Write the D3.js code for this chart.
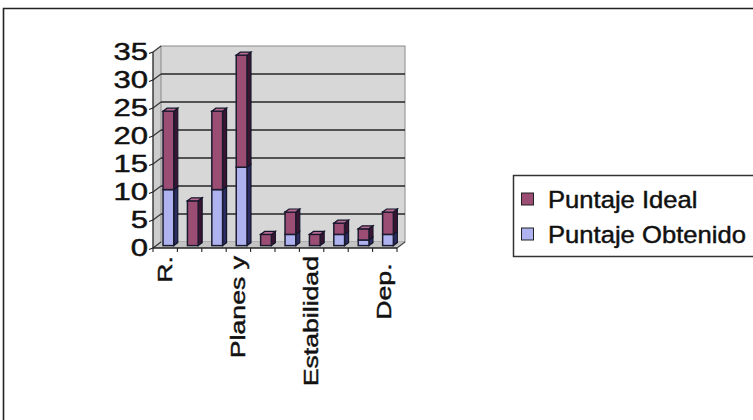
<!DOCTYPE html>
<html>
<head>
<meta charset="utf-8">
<script src="https://cdn.jsdelivr.net/npm/d3@7"></script>
<style>
  html, body { margin: 0; padding: 0; background: #fff; }
  svg { display: block; }
  text { font-family: "Liberation Sans", Arial, sans-serif; fill: #111; stroke: #111; stroke-width: 0.45px; }
</style>
</head>
<body>
<script>
// Category labels (only every third one fits under the axis)
const categories = ["R.", "c2", "c3", "Planes y", "c5", "c6", "Estabilidad", "c8", "c9", "Dep. "];
const shownLabels = [true, false, false, true, false, false, true, false, false, true];
// Series values, stacked: Obtenido at the bottom, Ideal on top
const puntajeObtenido = [10, 0, 10, 14, 0, 2, 0, 2, 1, 2];
const puntajeIdeal    = [14, 8, 14, 20, 2, 4, 2, 2, 2, 4];
const seriesNames = ["Puntaje Ideal", "Puntaje Obtenido"];
const yTicks = [0, 5, 10, 15, 20, 25, 30, 35];

const W = 753, H = 420;
const svg = d3.select("body").append("svg").attr("width", W).attr("height", H);

// outer chart border (runs off the right and bottom edges)
svg.append("path")
  .attr("d", "M3.5,430 L3.5,8.5 L760,8.5")
  .attr("fill", "none").attr("stroke", "#222").attr("stroke-width", 1.6);

const x = d3.scaleBand().domain(categories).range([153, 397]).padding(0);
const y = d3.scaleLinear().domain([0, 35]).range([248, 52]);
const DX = 8, DY = -6;           // depth vector of the 3D box
const x0 = 153, x1 = 397;

const g = svg.append("g");

// side wall (left)
g.append("path")
  .attr("d", `M${x0},${y(0)} L${x0},${y(35)} L${x0 + DX},${y(35) + DY} L${x0 + DX},${y(0) + DY} Z`)
  .attr("fill", "#cdcdcd");
// back wall
g.append("rect")
  .attr("x", x0 + DX).attr("y", y(35) + DY)
  .attr("width", x1 - x0).attr("height", y(0) - y(35))
  .attr("fill", "#d7d7d7").attr("stroke", "#8a8a8a").attr("stroke-width", 1);
// floor
g.append("path")
  .attr("d", `M${x0},${y(0)} L${x0 + DX},${y(0) + DY} L${x1 + DX},${y(0) + DY} L${x1},${y(0)} Z`)
  .attr("fill", "#c4c4c4");

// gridlines on the back wall and the side wall
yTicks.forEach(t => {
  if (t > 0 && t < 35) {
    g.append("line")
      .attr("x1", x0 + DX).attr("x2", x1 + DX)
      .attr("y1", y(t) + DY).attr("y2", y(t) + DY)
      .attr("stroke", "#262626").attr("stroke-width", 1.5);
  }
  g.append("line")
    .attr("x1", x0 - 4).attr("y1", y(t) + 1.5)
    .attr("x2", x0).attr("y2", y(t))
    .attr("stroke", "#222").attr("stroke-width", 1.2);
  g.append("line")
    .attr("x1", x0).attr("y1", y(t))
    .attr("x2", x0 + DX).attr("y2", y(t) + DY)
    .attr("stroke", "#333").attr("stroke-width", 1.1);
});

// value axis line
g.append("line")
  .attr("x1", x0).attr("x2", x0).attr("y1", y(0)).attr("y2", y(35))
  .attr("stroke", "#222").attr("stroke-width", 1.3);

// value axis labels
yTicks.forEach(t => {
  svg.append("text")
    .attr("transform", `translate(148,${y(t)}) scale(1.35,1)`)
    .attr("text-anchor", "end").attr("dy", "0.36em")
    .attr("font-size", 23)
    .text(t);
});

// bars (3D stacked columns)
const colors = {
  ideal:    { front: "#9c4d74", side: "#3a1430", top: "#b76a92" },
  obtenido: { front: "#aeb3f0", side: "#2b2d62", top: "#c9ccf7" }
};
const dFront = 0.4, dBack = 0.9;
const bw = x.bandwidth() * 0.44;
const bars = g.append("g");

categories.forEach((c, i) => {
  const cx = x(c) + x.bandwidth() / 2;
  const segs = [
    { v0: 0, v1: puntajeObtenido[i], col: colors.obtenido },
    { v0: puntajeObtenido[i], v1: puntajeObtenido[i] + puntajeIdeal[i], col: colors.ideal }
  ].filter(s => s.v1 > s.v0);
  segs.forEach((s, k) => {
    const xl = cx - bw / 2 + dFront * DX, xr = xl + bw;
    const yt = y(s.v1) + dFront * DY, yb = y(s.v0) + dFront * DY;
    const ddx = (dBack - dFront) * DX, ddy = (dBack - dFront) * DY;
    // right side face
    bars.append("path")
      .attr("d", `M${xr},${yt} L${xr + ddx},${yt + ddy} L${xr + ddx},${yb + ddy} L${xr},${yb} Z`)
      .attr("fill", s.col.side).attr("stroke", "#15152a").attr("stroke-width", 1.2);
    // front face
    bars.append("rect")
      .attr("x", xl).attr("y", yt).attr("width", bw).attr("height", yb - yt)
      .attr("fill", s.col.front).attr("stroke", "#1b1b30").attr("stroke-width", 1.5);
    // top face on the highest segment
    if (k === segs.length - 1) {
      bars.append("path")
        .attr("d", `M${xl},${yt} L${xl + ddx},${yt + ddy} L${xr + ddx},${yt + ddy} L${xr},${yt} Z`)
        .attr("fill", s.col.top).attr("stroke", "#15152a").attr("stroke-width", 1.2);
    }
  });
});

// category axis: front floor edge, ticks and right slant
g.append("line")
  .attr("x1", x0).attr("x2", x1).attr("y1", y(0)).attr("y2", y(0))
  .attr("stroke", "#222").attr("stroke-width", 1.3);
g.append("line")
  .attr("x1", x1).attr("x2", x1 + DX).attr("y1", y(0)).attr("y2", y(0) + DY)
  .attr("stroke", "#444").attr("stroke-width", 1.1);
categories.forEach(c => {
  g.append("line")
    .attr("x1", x(c)).attr("x2", x(c)).attr("y1", y(0)).attr("y2", y(0) + 4)
    .attr("stroke", "#222").attr("stroke-width", 1.1);
});
g.append("line")
  .attr("x1", x1).attr("x2", x1).attr("y1", y(0)).attr("y2", y(0) + 4)
  .attr("stroke", "#222").attr("stroke-width", 1.1);

// category labels, rotated
categories.forEach((c, i) => {
  if (!shownLabels[i]) return;
  svg.append("text")
    .attr("transform", `translate(${x(c) + x.bandwidth() / 2 - 1},256) rotate(-90) scale(1.3,1)`)
    .attr("text-anchor", "end").attr("dy", "0.36em")
    .attr("font-size", 20.5)
    .style("white-space", "pre")
    .text(c);
});

// legend
const lg = svg.append("g");
lg.append("path")
  .attr("d", "M760,175.5 L513.5,175.5 L513.5,256.5 L760,256.5")
  .attr("fill", "#fff").attr("stroke", "#333").attr("stroke-width", 1.5);
const legendColors = [colors.ideal.front, colors.obtenido.front];
seriesNames.forEach((n, i) => {
  const cy = 199 + i * 35;
  lg.append("rect")
    .attr("x", 521.5).attr("y", cy - 6).attr("width", 12).attr("height", 12)
    .attr("fill", legendColors[i]).attr("stroke", "#222").attr("stroke-width", 1);
  lg.append("text")
    .attr("transform", `translate(548,${cy + 9}) scale(1.09,1)`)
    .attr("font-size", 23.5)
    .text(n);
});
</script>
</body>
</html>
